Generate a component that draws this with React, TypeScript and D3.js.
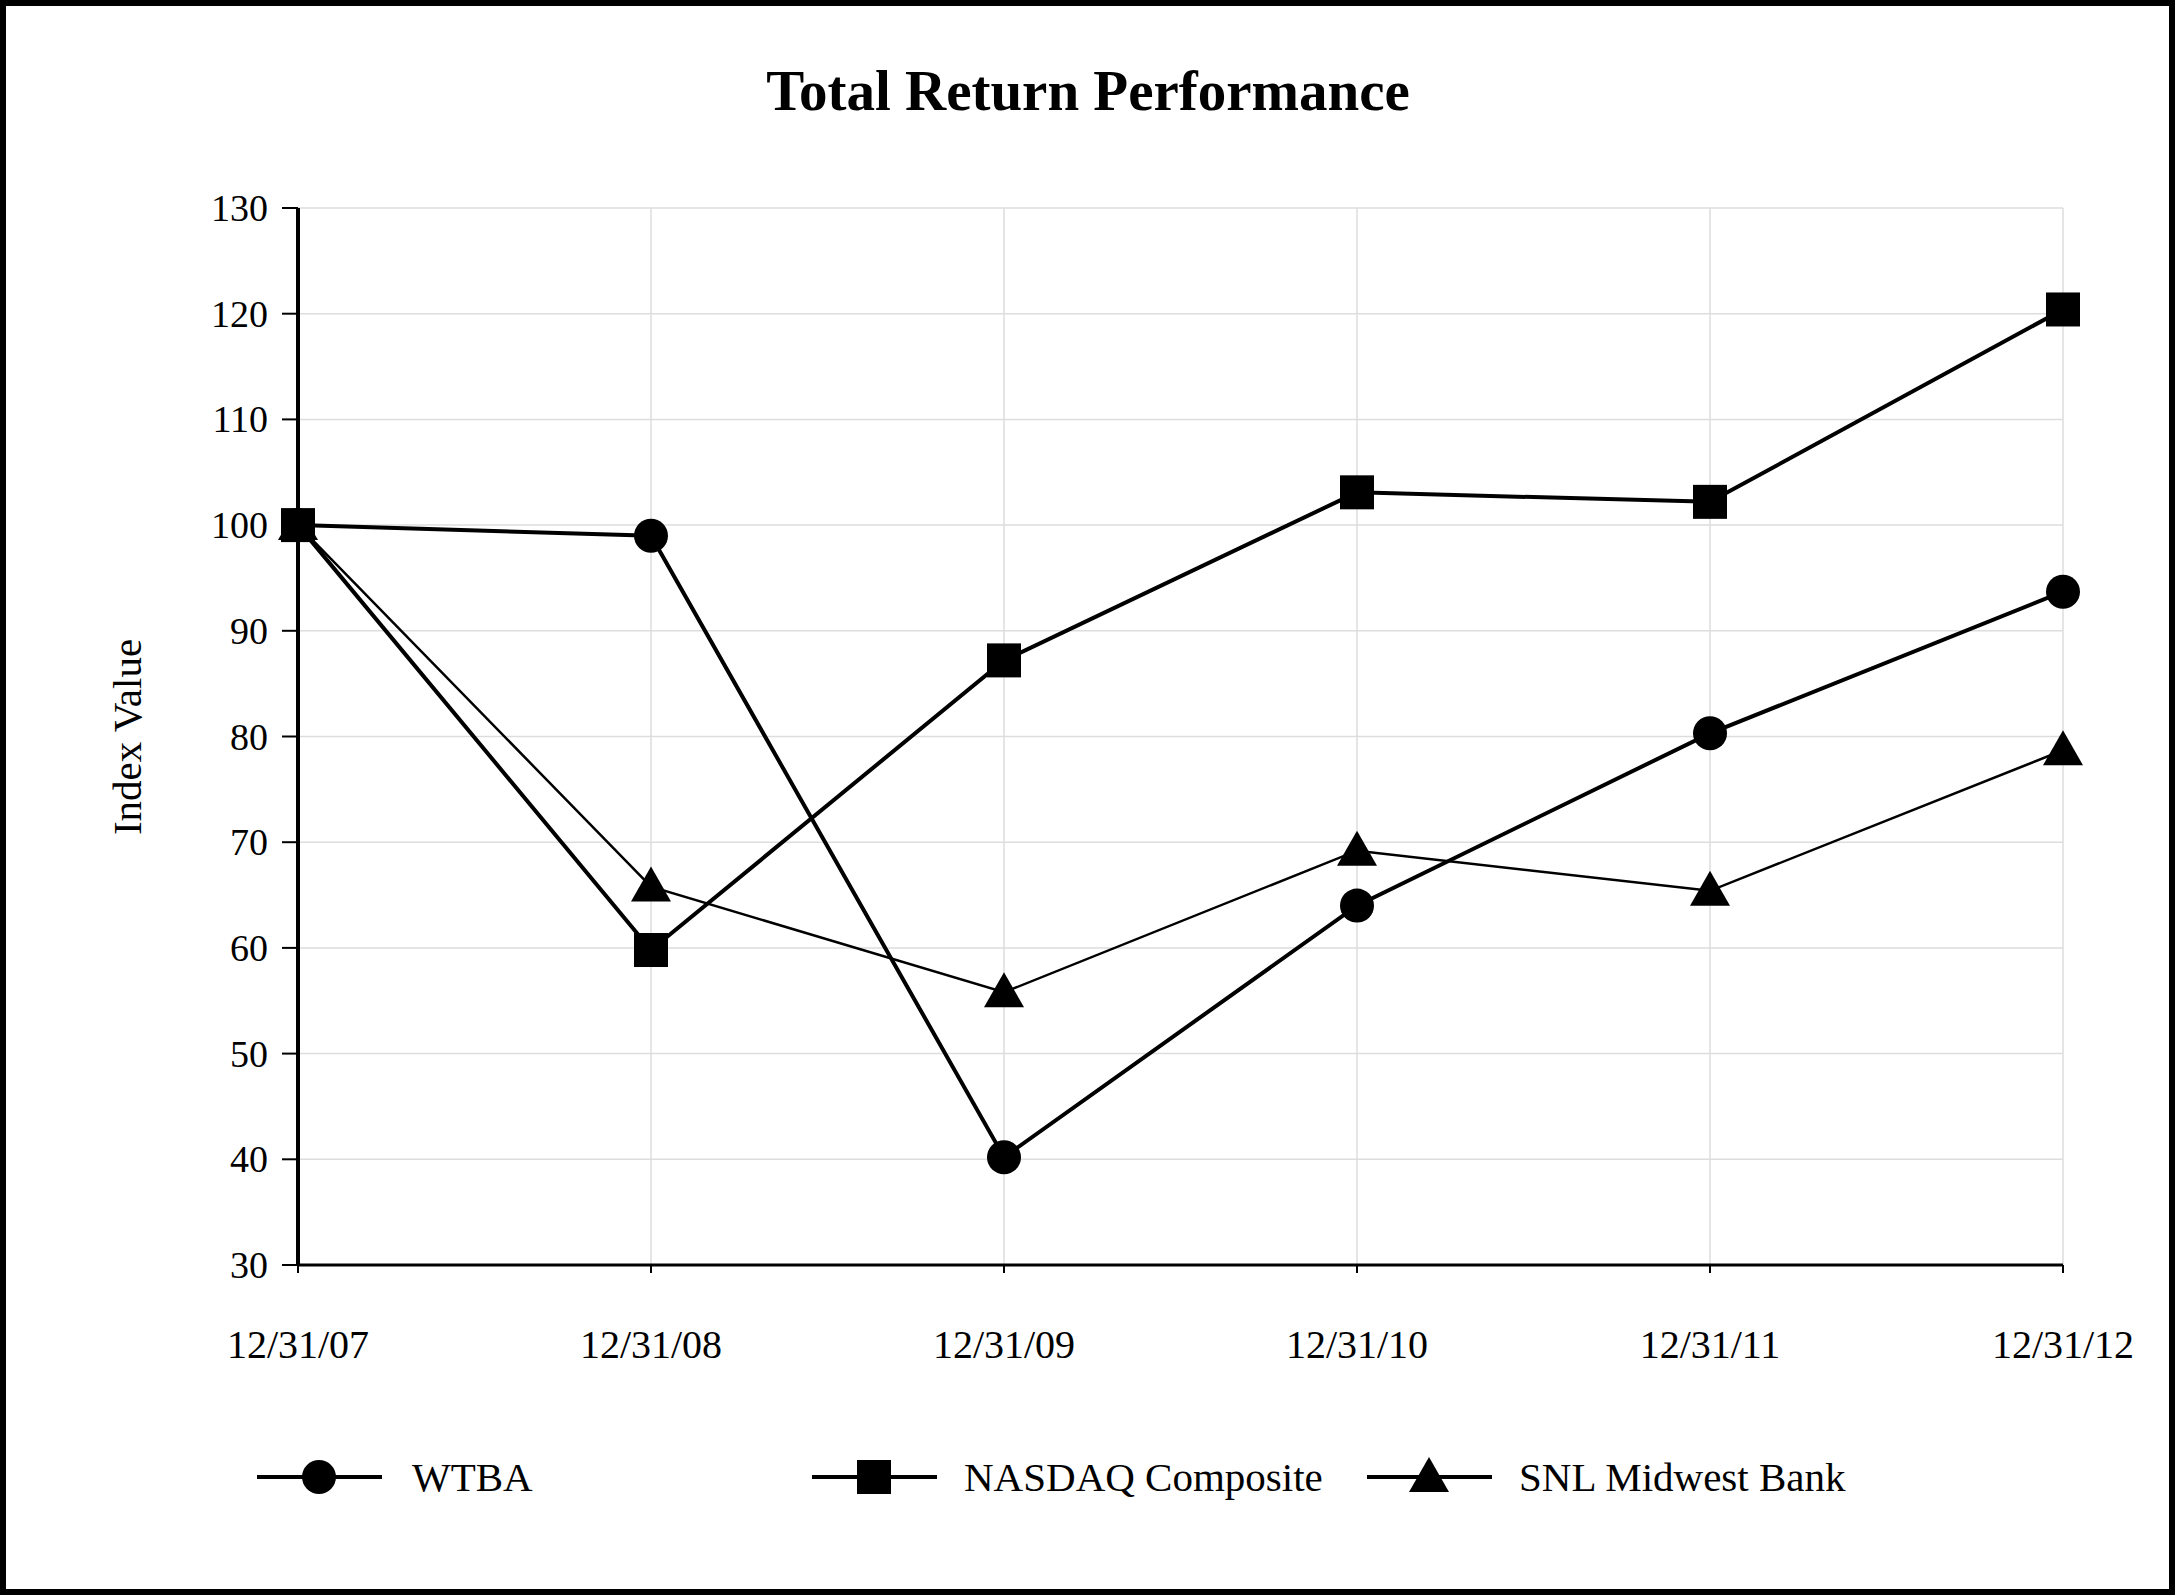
import React from "react";
import * as d3 from "d3";

const categories = ["12/31/07", "12/31/08", "12/31/09", "12/31/10", "12/31/11", "12/31/12"];
const wtba = [100, 99, 40.2, 64, 80.3, 93.7];
const nasdaq = [100, 59.8, 87.2, 103.1, 102.2, 120.4];
const snl = [100, 65.8, 55.8, 69.2, 65.4, 78.7];
const yTicks = [30, 40, 50, 60, 70, 80, 90, 100, 110, 120, 130];

const W = 2175, H = 1595;
const L = 298, R = 2063, T = 208, B = 1265;
const font = "'Liberation Serif', 'Times New Roman', serif";

function Marker({ type, x, y }: { type: string; x: number; y: number }) {
  if (type === "circle") return <circle cx={x} cy={y} r={17} fill="#000" />;
  if (type === "square") return <rect x={x - 17} y={y - 17} width={34} height={34} fill="#000" />;
  const s = 20;
  return <path d={`M${x},${y - s}L${x + s},${y + s * 0.75}L${x - s},${y + s * 0.75}Z`} fill="#000" />;
}

export default function App() {
  const x = d3.scalePoint<string>().domain(categories).range([L, R]);
  const y = d3.scaleLinear().domain([30, 130]).range([B, T]);
  const line = d3.line<number>().x((_, i) => x(categories[i])!).y((d) => y(d));
  const series = [
    { name: "WTBA", data: wtba, type: "circle", w: 4, lx: 257, tx: 412 },
    { name: "NASDAQ Composite", data: nasdaq, type: "square", w: 4, lx: 812, tx: 964 },
    { name: "SNL Midwest Bank", data: snl, type: "triangle", w: 2.5, lx: 1367, tx: 1519 },
  ];
  return (
    <svg width={W} height={H} style={{ display: "block", position: "absolute", left: 0, top: 0 }} fontFamily={font}>
      <rect x={0} y={0} width={W} height={H} fill="#fff" />
      <rect x={3} y={3} width={W - 6} height={H - 6} fill="none" stroke="#000" strokeWidth={6} />
      <text x={1088} y={110} textAnchor="middle" fontSize={57} fontWeight="bold">Total Return Performance</text>
      {yTicks.map((t) => (
        <g key={t}>
          <line x1={L} x2={R} y1={y(t)} y2={y(t)} stroke="#ddd" strokeWidth={1.5} />
          <line x1={L - 16} x2={L} y1={y(t)} y2={y(t)} stroke="#000" strokeWidth={2} />
          <text x={L - 30} y={y(t) + 13} textAnchor="end" fontSize={38}>{t}</text>
        </g>
      ))}
      {categories.map((c) => (
        <g key={c}>
          <line x1={x(c)} x2={x(c)} y1={T} y2={B} stroke="#ddd" strokeWidth={1.5} />
          <line x1={x(c)} x2={x(c)} y1={B} y2={B + 8} stroke="#000" strokeWidth={2} />
          <text x={x(c)} y={1358} textAnchor="middle" fontSize={40}>{c}</text>
        </g>
      ))}
      <line x1={L} x2={L} y1={T} y2={B} stroke="#000" strokeWidth={4} />
      <line x1={L} x2={R} y1={B} y2={B} stroke="#000" strokeWidth={3} />
      <text transform={`translate(141,737) rotate(-90)`} textAnchor="middle" fontSize={41}>Index Value</text>
      {series.map((s) => (
        <g key={s.name}>
          <path d={line(s.data)!} fill="none" stroke="#000" strokeWidth={s.w} />
          {s.data.map((v, i) => <Marker key={i} type={s.type} x={x(categories[i])!} y={y(v)} />)}
          <line x1={s.lx} x2={s.lx + 125} y1={1477} y2={1477} stroke="#000" strokeWidth={4} />
          <Marker type={s.type} x={s.lx + 62} y={1477} />
          <text x={s.tx} y={1491} fontSize={41}>{s.name}</text>
        </g>
      ))}
    </svg>
  );
}
